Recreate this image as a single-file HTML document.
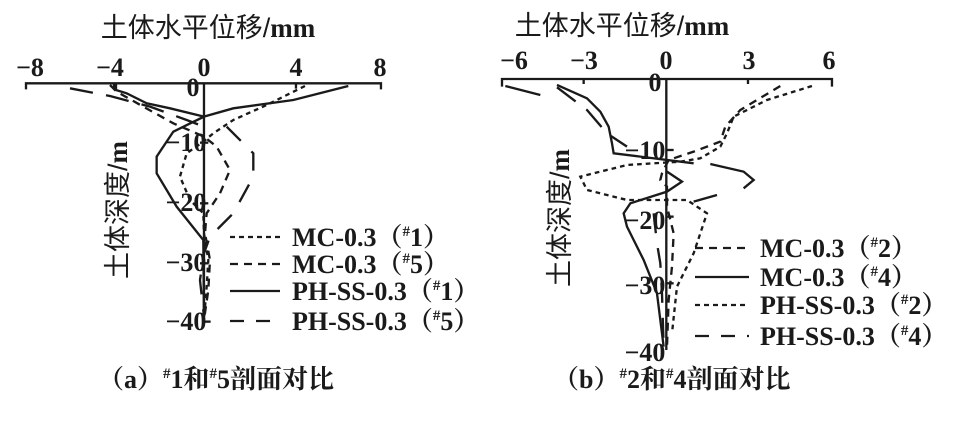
<!DOCTYPE html>
<html><head><meta charset="utf-8"><style>
body{margin:0;background:#fff;}
svg text{font-family:"Liberation Serif","Noto Serif CJK SC",serif;fill:#1a1a1a;}
.t{font-family:"Liberation Sans","Noto Sans CJK SC",sans-serif;font-size:27px;}
.n{font-size:26px;font-weight:bold;}
.lg{font-size:26px;font-weight:bold;}
</style></head><body>
<svg width="977" height="421" viewBox="0 0 977 421" xmlns="http://www.w3.org/2000/svg">
<g fill="none" stroke="#1a1a1a">
<g transform="scale(0.3333)" stroke-width="7">
 <polyline points="78,268 78,250 1143,250 1143,268" />
 <line x1="342" y1="250" x2="342" y2="266"/><line x1="888" y1="250" x2="888" y2="266"/>
 <line x1="612" y1="250" x2="612" y2="965"/><line x1="612" y1="965" x2="632" y2="965"/>
 <line x1="600" y1="428" x2="625" y2="428"/><line x1="600" y1="610" x2="625" y2="610"/><line x1="600" y1="790" x2="625" y2="790"/>
 <polyline stroke-dasharray="14,12" points="915,258 800,315 700,360 640,400 610,425 560,460 540,530 570,600 610,640 612,700 625,780 620,860 612,960"/>
 <polyline stroke-dasharray="24,18" points="330,255 350,275 430,320 520,370 612,410 650,440 690,510 660,580 620,640 615,700 630,780 625,870 612,960"/>
 <polyline points="1045,258 880,300 700,325 612,350 520,395 470,470 470,520 530,620 610,720 612,960"/>
 <polyline points="348,250 348,270 380,280 440,310 510,325 612,350"/>
 <polyline stroke-dasharray="70,40" points="210,265 330,288 450,320 560,360 612,380"/>
 <polyline stroke-dasharray="60,45" points="680,380 760,460 760,530 700,640 630,710 612,760 600,840 612,950"/>
</g>
<g stroke-width="2.3">
 <line x1="230" y1="237" x2="280" y2="237" stroke-dasharray="5,4"/>
 <line x1="230" y1="264" x2="280" y2="264" stroke-dasharray="8,6"/>
 <line x1="230" y1="291" x2="280" y2="291"/>
 <line x1="230" y1="321" x2="280" y2="321" stroke-dasharray="14,12"/>
</g>
<g transform="translate(487,0) scale(0.3333)" stroke-width="7">
 <polyline points="45,260 45,237 1035,237 1035,260"/>
 <line x1="290" y1="237" x2="290" y2="252"/><line x1="783" y1="237" x2="783" y2="252"/>
 <line x1="538" y1="237" x2="538" y2="1050"/>
 <line x1="538" y1="450" x2="560" y2="450"/><line x1="538" y1="650" x2="560" y2="650"/><line x1="538" y1="850" x2="560" y2="850"/>
 <polyline stroke-dasharray="24,18" points="880,258 760,330 715,380 700,425 620,455 545,480 525,520 520,540 540,560 540,620 560,700 555,800 545,900 540,1040"/>
 <polyline stroke-dasharray="14,12" points="975,258 840,300 740,350 720,400 700,440 640,475 580,485 420,495 280,530 300,570 420,600 600,600 660,640 620,760 570,860 555,1000"/>
 <polyline points="210,255 300,295 340,335 365,380 375,430 380,460 460,470 620,490"/>
 <polyline points="670,492 770,515 800,540 770,565"/>
 <polyline points="690,585 620,605"/>
 <polyline points="540,515 585,545 540,575 430,610 410,640 420,680 470,780 510,880 530,1040"/>
 <polyline stroke-dasharray="110,50" points="55,258 160,285"/>
 <polyline stroke-dasharray="70,40" points="210,262 300,330 360,400 420,440"/>
 <polyline stroke-dasharray="60,45" points="500,640 510,730 520,790 525,880 530,1040"/>
</g>
<g stroke-width="2.3">
 <line x1="695" y1="248" x2="749" y2="248" stroke-dasharray="8,6"/>
 <line x1="695" y1="277" x2="749" y2="277"/>
 <line x1="695" y1="305" x2="749" y2="305" stroke-dasharray="5,4"/>
 <line x1="695" y1="336" x2="749" y2="336" stroke-dasharray="14,12"/>
</g>
</g>
<text class="t" x="208" y="37" text-anchor="middle">土体水平位移/<tspan font-family="Liberation Serif" font-weight="bold">mm</tspan></text>
<g class="n" text-anchor="middle">
 <text x="30" y="76">−8</text><text x="110" y="76">−4</text><text x="204" y="76">0</text><text x="296" y="76">4</text><text x="380" y="76">8</text>
 <text x="193" y="96">0</text><text x="186" y="151">−10</text><text x="186" y="211">−20</text><text x="186" y="271">−30</text><text x="186" y="330">−40</text>
</g>
<text class="t" transform="translate(127,210) rotate(-90)" text-anchor="middle">土体深度/<tspan font-family="Liberation Serif" font-weight="bold">m</tspan></text>
<g class="lg">
 <text x="292" y="246">MC-0.3（<tspan font-size="15" dy="-10">#</tspan><tspan dy="10">1</tspan>）</text>
 <text x="292" y="273">MC-0.3（<tspan font-size="15" dy="-10">#</tspan><tspan dy="10">5</tspan>）</text>
 <text x="292" y="300">PH-SS-0.3（<tspan font-size="15" dy="-10">#</tspan><tspan dy="10">1</tspan>）</text>
 <text x="292" y="330">PH-SS-0.3（<tspan font-size="15" dy="-10">#</tspan><tspan dy="10">5</tspan>）</text>
</g>
<text class="lg" x="98" y="388" font-size="27">（a）<tspan font-size="15" dy="-10">#</tspan><tspan dy="10">1和</tspan><tspan font-size="15" dy="-10">#</tspan><tspan dy="10">5剖面对比</tspan></text>
<text class="t" x="622" y="35" text-anchor="middle">土体水平位移/<tspan font-family="Liberation Serif" font-weight="bold">mm</tspan></text>
<g class="n" text-anchor="middle">
 <text x="514" y="69">−6</text><text x="584" y="69">−3</text><text x="666" y="69">0</text><text x="749" y="69">3</text><text x="829" y="69">6</text>
 <text x="655" y="91">0</text><text x="645" y="159">−10</text><text x="645" y="229">−20</text><text x="645" y="294">−30</text><text x="645" y="361">−40</text>
</g>
<text class="t" transform="translate(569,218) rotate(-90)" text-anchor="middle">土体深度/<tspan font-family="Liberation Serif" font-weight="bold">m</tspan></text>
<g class="lg">
 <text x="760" y="257">MC-0.3（<tspan font-size="15" dy="-10">#</tspan><tspan dy="10">2</tspan>）</text>
 <text x="760" y="286">MC-0.3（<tspan font-size="15" dy="-10">#</tspan><tspan dy="10">4</tspan>）</text>
 <text x="760" y="314">PH-SS-0.3（<tspan font-size="15" dy="-10">#</tspan><tspan dy="10">2</tspan>）</text>
 <text x="760" y="345">PH-SS-0.3（<tspan font-size="15" dy="-10">#</tspan><tspan dy="10">4</tspan>）</text>
</g>
<text class="lg" x="553" y="388" font-size="27">（b）<tspan font-size="15" dy="-10">#</tspan><tspan dy="10">2和</tspan><tspan font-size="15" dy="-10">#</tspan><tspan dy="10">4剖面对比</tspan></text>
</svg>
</body></html>
